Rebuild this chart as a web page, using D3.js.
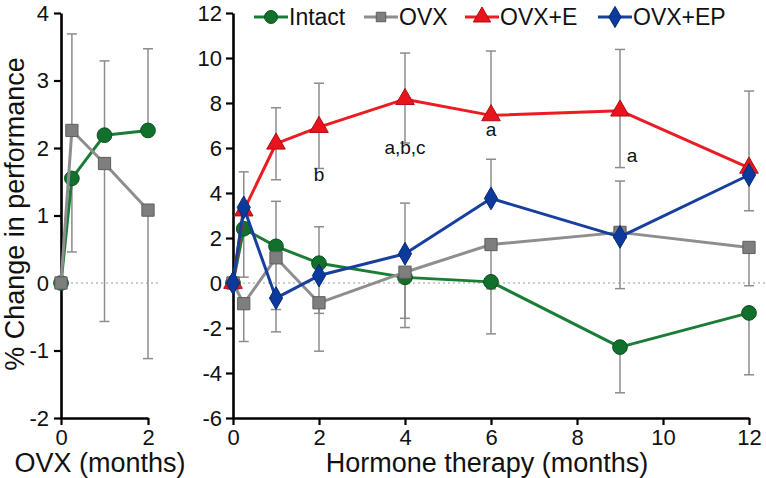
<!DOCTYPE html>
<html>
<head>
<meta charset="utf-8">
<script src="https://cdn.jsdelivr.net/npm/d3@7"></script>
<style>
  html, body { margin: 0; padding: 0; background: #fff; }
  svg { display: block; font-family: "Liberation Sans", Arial, sans-serif; }
</style>
</head>
<body>
<svg id="chart" width="766" height="478"></svg>
<script>
// ---- Left panel data (OVX period) ----
const ovxMonths = [0, 0.25, 1, 2];
const leftIntact = [0, 1.55, 2.19, 2.26];
const leftIntactUp = [0, 0, 1.1, 1.21];
const leftIntactDown = [0, 1.09, 0, 0];
const leftOVX = [0, 2.26, 1.77, 1.08];
const leftOVXUp = [0, 1.43, 0, 0];
const leftOVXDown = [0, 0, 2.34, 2.2];
const leftYTicks = [4, 3, 2, 1, 0, -1, -2];
const leftXTicks = [0, 2];

// ---- Right panel data (Hormone therapy) ----
const months = [0, 0.25, 1, 2, 4, 6, 9, 12];
const intact = [0, 2.41, 1.63, 0.88, 0.25, 0.05, -2.85, -1.33];
const intactUp = [0, 0, 2.0, 1.62, 0, 0, 0, 0];
const intactDown = [0, 2.15, 0, 0, 2.23, 2.31, 2.03, 2.75];
const ovx = [0, -0.92, 1.12, -0.88, 0.48, 1.71, 2.25, 1.58];
const ovxUp = [0, 0, 0, 0, 0, 0, 0, 0];
const ovxDown = [0, 1.68, 2.3, 2.15, 2.05, 1.97, 2.5, 1.7];
const ovxE = [0, 3.22, 6.19, 6.93, 8.17, 7.45, 7.66, 5.12];
const ovxEUp = [0, 1.72, 1.6, 1.95, 2.05, 2.86, 2.72, 3.41];
const ovxEDown = [0, 0, 1.6, 1.84, 1.95, 0, 2.53, 1.91];
const ovxEP = [0, 3.36, -0.67, 0.33, 1.3, 3.76, 2.05, 4.8];
const ovxEPUp = [0, 0, 0, 0, 2.25, 1.74, 2.48, 0];
const ovxEPDown = [0, 0, 1.5, 1.68, 0, 0, 0, 0];
const rightYTicks = [12, 10, 8, 6, 4, 2, 0, -2, -4, -6];
const rightXTicks = [0, 2, 4, 6, 8, 10, 12];

const seriesNames = ["Intact", "OVX", "OVX+E", "OVX+EP"];
const annotations = [
  {m: 2, v: 4.55, t: "b"},
  {m: 4, v: 5.75, t: "a,b,c"},
  {m: 6, v: 6.55, t: "a"},
  {m: 9, v: 5.4, t: "a", dx: 12}
];

const colors = {
  "Intact": {line: "#1a7d36", fill: "#10702c", stroke: "#0b4f1f"},
  "OVX": {line: "#8e8e8e", fill: "#7e7e7e", stroke: "#5e5e5e"},
  "OVX+E": {line: "#ec1c24", fill: "#e8141c", stroke: "#b00d13"},
  "OVX+EP": {line: "#173f9e", fill: "#0b3a9c", stroke: "#062a74"}
};
const shapes = {
  "Intact": d3.symbolCircle,
  "OVX": d3.symbolSquare,
  "OVX+E": d3.symbolTriangle,
  "OVX+EP": d3.symbolDiamond
};
const sizes = {"Intact": 170, "OVX": 150, "OVX+E": 150, "OVX+EP": 150};

const svg = d3.select("#chart");

// scales
const yL = d3.scaleLinear().domain([-2, 4]).range([418, 13]);
const xL = d3.scaleLinear().domain([0, 2]).range([61, 148]);
const yR = d3.scaleLinear().domain([-6, 12]).range([418, 13]);
const xR = d3.scaleLinear().domain([0, 12]).range([233, 749]);

function styleAxis(g) {
  g.selectAll("path.domain").attr("stroke", "#000").attr("stroke-width", 2.6);
  g.selectAll(".tick line").attr("stroke", "#000").attr("stroke-width", 2.2);
  g.selectAll(".tick text").attr("fill", "#111").attr("font-size", 22)
    .attr("font-family", "'Liberation Sans', Arial, sans-serif");
}

// zero dotted lines
svg.append("line").attr("x1", xL(0)).attr("x2", 160).attr("y1", yL(0)).attr("y2", yL(0))
  .attr("stroke", "#9a9a9a").attr("stroke-width", 1.2).attr("stroke-dasharray", "2,3");
svg.append("line").attr("x1", xR(0)).attr("x2", 766).attr("y1", yR(0)).attr("y2", yR(0))
  .attr("stroke", "#9a9a9a").attr("stroke-width", 1.2).attr("stroke-dasharray", "2,3");

// axes
const gLy = svg.append("g").attr("transform", `translate(${xL(0)},0)`)
  .call(d3.axisLeft(yL).tickValues(leftYTicks).tickSize(7).tickPadding(5).tickSizeOuter(0).tickFormat(d3.format("d")));
styleAxis(gLy);
const gLx = svg.append("g").attr("transform", `translate(0,${yL(-2)})`)
  .call(d3.axisBottom(xL).tickValues(leftXTicks).tickSize(7).tickPadding(4).tickSizeOuter(0).tickFormat(d3.format("d")));
styleAxis(gLx);
const gRy = svg.append("g").attr("transform", `translate(${xR(0)},0)`)
  .call(d3.axisLeft(yR).tickValues(rightYTicks).tickSize(7).tickPadding(4).tickSizeOuter(0).tickFormat(d3.format("d")));
styleAxis(gRy);
const gRx = svg.append("g").attr("transform", `translate(0,${yR(-6)})`)
  .call(d3.axisBottom(xR).tickValues(rightXTicks).tickSize(7).tickPadding(4).tickSizeOuter(0).tickFormat(d3.format("d")));
styleAxis(gRx);
svg.selectAll(".tick text").text(function() { return d3.select(this).text().replace("−", "-"); });

// axis titles
svg.append("text").attr("x", 100).attr("y", 472).attr("text-anchor", "middle")
  .attr("font-size", 27).attr("fill", "#111").text("OVX (months)");
svg.append("text").attr("x", 487).attr("y", 472).attr("text-anchor", "middle")
  .attr("font-size", 27).attr("fill", "#111").text("Hormone therapy (months)");
svg.append("text").attr("transform", "translate(24,214) rotate(-90)").attr("text-anchor", "middle")
  .attr("font-size", 27).attr("fill", "#111").text("% Change in performance");

function drawSeries(name, xs, vals, up, down, x, y) {
  const c = colors[name];
  const eb = svg.append("g");
  xs.forEach((m, i) => {
    const cx = x(m);
    const segs = [];
    if (up[i] > 0) segs.push(vals[i] + up[i]);
    if (down[i] > 0) segs.push(vals[i] - down[i]);
    segs.forEach(end => {
      eb.append("line").attr("x1", cx).attr("x2", cx).attr("y1", y(vals[i])).attr("y2", y(end))
        .attr("stroke", "#8c8c8c").attr("stroke-width", 1.5);
      eb.append("line").attr("x1", cx - 5).attr("x2", cx + 5).attr("y1", y(end)).attr("y2", y(end))
        .attr("stroke", "#8c8c8c").attr("stroke-width", 1.5);
    });
  });
  return {name, xs, vals, x, y, c};
}
function drawLine(s) {
  const pts = s.xs.map((m, i) => [s.x(m), s.y(s.vals[i])]);
  svg.append("path").attr("d", d3.line()(pts)).attr("fill", "none")
    .attr("stroke", s.c.line).attr("stroke-width", 3).attr("stroke-linejoin", "round");
  const sym = d3.symbol().type(shapes[s.name]).size(sizes[s.name]);
  pts.forEach(p => {
    svg.append("path").attr("d", sym()).attr("transform", `translate(${p[0]},${p[1]})`)
      .attr("fill", s.c.fill).attr("stroke", s.c.stroke).attr("stroke-width", 1);
  });
}

// left panel
const lS = [
  drawSeries("Intact", ovxMonths, leftIntact, leftIntactUp, leftIntactDown, xL, yL),
  drawSeries("OVX", ovxMonths, leftOVX, leftOVXUp, leftOVXDown, xL, yL)
];
// right panel
const rS = [
  drawSeries("Intact", months, intact, intactUp, intactDown, xR, yR),
  drawSeries("OVX", months, ovx, ovxUp, ovxDown, xR, yR),
  drawSeries("OVX+E", months, ovxE, ovxEUp, ovxEDown, xR, yR),
  drawSeries("OVX+EP", months, ovxEP, ovxEPUp, ovxEPDown, xR, yR)
];
lS.forEach(drawLine);
rS.forEach(drawLine);

// annotations
annotations.forEach(a => {
  svg.append("text").attr("x", xR(a.m) + (a.dx || 0)).attr("y", yR(a.v)).attr("text-anchor", "middle")
    .attr("font-size", 19).attr("fill", "#111").text(a.t);
});

// legend
const legendX = [254, 364, 465, 598];
const lg = svg.append("g");
seriesNames.forEach((n, i) => {
  const x0 = legendX[i], c = colors[n];
  lg.append("line").attr("x1", x0).attr("x2", x0 + 34).attr("y1", 17).attr("y2", 17)
    .attr("stroke", c.line).attr("stroke-width", 3);
  lg.append("path").attr("d", d3.symbol().type(shapes[n]).size(n === "OVX" ? 90 : 130)())
    .attr("transform", `translate(${x0 + 17},17)`).attr("fill", c.fill).attr("stroke", c.stroke).attr("stroke-width", 1);
  lg.append("text").attr("x", x0 + 35).attr("y", 25).attr("font-size", 23).attr("fill", "#111").text(n);
});
</script>
</body>
</html>
